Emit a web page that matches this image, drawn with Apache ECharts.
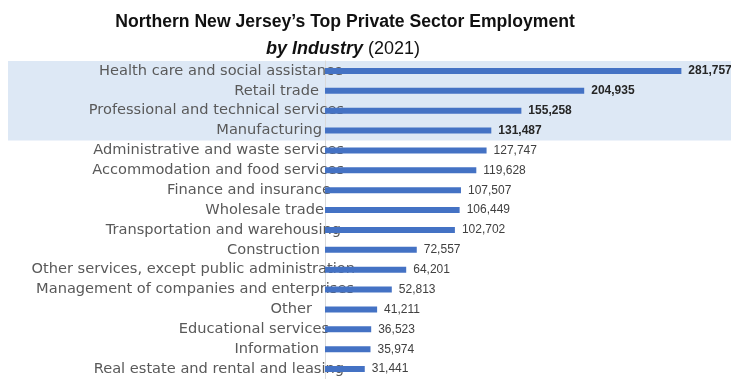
<!DOCTYPE html>
<html>
<head>
<meta charset="utf-8">
<script src="https://cdn.jsdelivr.net/npm/echarts@6/dist/echarts.min.js"></script>
<style>
  html, body { margin: 0; padding: 0; background: #ffffff; }
  #chart { width: 731px; height: 379px; }
</style>
</head>
<body>
<div id="chart"></div>
<script>
// Industries, largest first
const industries = [
  'Health care and social assistance',
  'Retail trade',
  'Professional and technical services',
  'Manufacturing',
  'Administrative and waste services',
  'Accommodation and food services',
  'Finance and insurance',
  'Wholesale trade',
  'Transportation and warehousing',
  'Construction',
  'Other services, except public administration',
  'Management of companies and enterprises',
  'Other',
  'Educational services',
  'Information',
  'Real estate and rental and leasing'
];

// Private sector employment, 2021
const employment = [
  281757, 204935, 155258, 131487, 127747, 119628, 107507, 106449,
  102702, 72557, 64201, 52813, 41211, 36523, 35974, 31441
];

// The top industries get a shaded band and bold value labels
const topCount = 4;

const titleLine1 = 'Northern New Jersey\u2019s Top Private Sector Employment';
const titleItalic = 'by Industry';
const titleYear = '(2021)';

const titleFamily = '"Liberation Sans Narrow", "Liberation Sans", sans-serif';
const labelSize = 14.6;
const labelFont = labelSize + 'px "DejaVu Sans"';
const labelAnchorShift = 31;

// Long names creep further toward the bars than short ones
const measureCtx = document.createElement('canvas').getContext('2d');
measureCtx.font = labelFont;
function labelPadding(name) {
  const w = measureCtx.measureText(name).width;
  return Math.max(0, Math.round(50 - 0.15 * w));
}

const chart = echarts.init(document.getElementById('chart'), null, { renderer: 'canvas' });

const option = {
  animation: false,
  backgroundColor: '#ffffff',
  title: [
    {
      text: titleLine1,
      left: 340,
      top: 8,
      textAlign: 'center',
      textStyle: {
        fontFamily: titleFamily,
        fontSize: 17.6,
        fontWeight: 'bold',
        color: '#111111'
      }
    },
    {
      text: '{i|' + titleItalic + '} {r|' + titleYear + '}',
      left: 338,
      top: 35,
      textAlign: 'center',
      textStyle: {
        fontWeight: 'normal',
        rich: {
          i: {
            fontFamily: titleFamily,
            fontSize: 18,
            fontWeight: 'bold',
            fontStyle: 'italic',
            color: '#111111'
          },
          r: {
            fontFamily: titleFamily,
            fontSize: 18,
            fontWeight: 'normal',
            fontStyle: 'normal',
            color: '#111111'
          }
        }
      }
    }
  ],
  grid: {
    left: 325,
    right: 0,
    top: 61,
    bottom: 0,
    containLabel: false
  },
  xAxis: {
    type: 'value',
    min: 0,
    max: 321000,
    show: false
  },
  yAxis: {
    type: 'category',
    inverse: true,
    data: industries.map(name => ({
      value: name,
      textStyle: { padding: [0, labelPadding(name), 0, 0] }
    })),
    axisLine: { show: true, lineStyle: { color: '#d9d9d9', width: 1 } },
    axisTick: { show: false },
    splitLine: { show: false },
    axisLabel: {
      interval: 0,
      margin: -labelAnchorShift,
      color: '#595959',
      fontFamily: '"DejaVu Sans"',
      fontSize: labelSize
    }
  },
  series: [
    {
      type: 'bar',
      barWidth: 6,
      itemStyle: { color: '#4472c4' },
      data: employment.map((v, i) => ({
        value: v,
        label: i < topCount
          ? { fontWeight: 'bold', color: '#262626' }
          : { fontWeight: 'normal', color: '#404040' }
      })),
      label: {
        show: true,
        position: 'right',
        distance: 7,
        fontFamily: '"Liberation Sans", sans-serif',
        fontSize: 12,
        formatter: p => p.value.toLocaleString('en-US')
      }
    }
  ]
};

chart.setOption(option);

// Shaded band behind the top industries, spanning their category bands
const p0 = chart.convertToPixel({ yAxisIndex: 0 }, industries[0]);
const p1 = chart.convertToPixel({ yAxisIndex: 0 }, industries[1]);
const pLast = chart.convertToPixel({ yAxisIndex: 0 }, industries[topCount - 1]);
const band = p1 - p0;
const bandTop = p0 - band / 2;
const bandBottom = pLast + band / 2;

chart.setOption({
  graphic: [
    {
      type: 'rect',
      z: -10,
      silent: true,
      shape: { x: 8, y: bandTop, width: 731 - 8, height: bandBottom - bandTop },
      style: { fill: '#dde8f5' }
    }
  ]
});
</script>
</body>
</html>
